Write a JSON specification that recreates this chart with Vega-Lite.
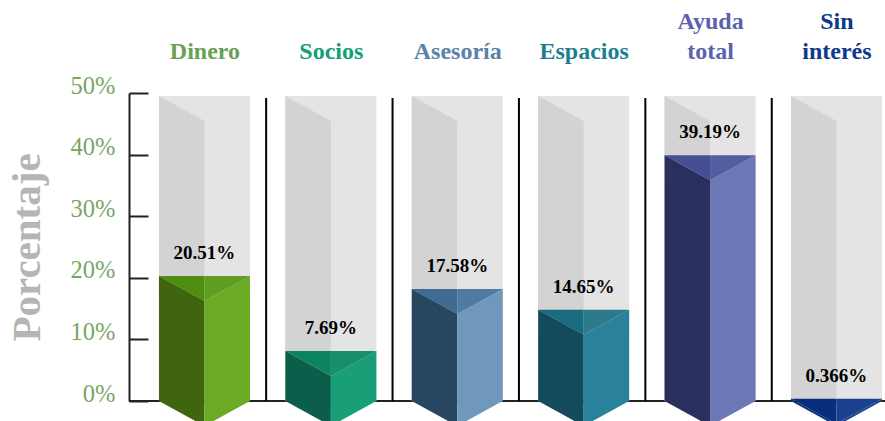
{"$schema":"https://vega.github.io/schema/vega-lite/v6.json","autosize":{"type":"none"},"width":756,"height":308,"padding":{"left":129,"top":93,"right":0,"bottom":20},"background":"white","config":{"view":{"stroke":null},"font":"Liberation Serif"},"data":{"values":[{"categoria":"Dinero","orden":0,"valor":20.51,"altura":20.3},{"categoria":"Socios","orden":1,"valor":7.69,"altura":8.1},{"categoria":"Asesoría","orden":2,"valor":17.58,"altura":18.2},{"categoria":"Espacios","orden":3,"valor":14.65,"altura":14.8},{"categoria":"Ayuda total","orden":4,"valor":39.19,"altura":39.9},{"categoria":"Sin interés","orden":5,"valor":0.366,"altura":0.37}]},"layer":[{"mark":{"type":"rule","color":"#222222","strokeWidth":2},"encoding":{"y":{"datum":0,"type":"quantitative","scale":{"domain":[0,50],"nice":false}}}},{"transform":[{"calculate":"['fondo','fondoIzq','frenteIzq','frenteDer','topeIzq','topeDer']","as":"cara"},{"flatten":["cara"]},{"calculate":"[0,1]","as":"t"},{"flatten":["t"]},{"calculate":"datum.cara=='fondo'?datum.orden-0.36+0.72*datum.t:(datum.cara=='frenteDer'||datum.cara=='topeDer')?datum.orden+0.36*datum.t:datum.orden-0.36+0.36*datum.t","as":"px"},{"calculate":"datum.cara=='fondo'?49.5:datum.cara=='fondoIzq'?49.5-4.06*datum.t:datum.cara=='frenteIzq'?datum.altura-4.06*datum.t:datum.cara=='frenteDer'?datum.altura-4.06*(1-datum.t):datum.altura","as":"arriba"},{"calculate":"datum.cara=='fondo'||datum.cara=='fondoIzq'?0:datum.cara=='frenteIzq'?-4.06*datum.t:datum.cara=='frenteDer'?-4.06*(1-datum.t):datum.cara=='topeIzq'?datum.altura-4.06*datum.t:datum.altura-4.06*(1-datum.t)","as":"abajo"},{"calculate":"datum.cara=='fondo'||datum.cara=='fondoIzq'?datum.cara:datum.categoria+'|'+datum.cara","as":"clave"},{"calculate":"datum.categoria+'|'+datum.cara","as":"grupo"}],"mark":{"type":"area","interpolate":"linear"},"encoding":{"x":{"field":"px","type":"quantitative","scale":{"domain":[-0.597,5.384],"nice":false,"zero":false},"axis":{"orient":"top","title":null,"domain":false,"ticks":false,"grid":false,"values":[0,1,2,3,4,5],"labelExpr":"[['Dinero'],['Socios'],['Asesoría'],['Espacios'],['Ayuda','total'],['Sin','interés']][datum.value]","labelFont":"Liberation Serif","labelFontWeight":"bold","labelFontSize":24,"labelLineHeight":30,"labelPadding":{"condition":{"test":"datum.value>=4","value":60},"value":30},"labelAngle":0,"labelBaseline":"bottom","labelOverlap":false,"labelColor":{"condition":[{"test":"datum.value==0","value":"#6a9f55"},{"test":"datum.value==1","value":"#12a078"},{"test":"datum.value==2","value":"#5b82a8"},{"test":"datum.value==3","value":"#1f7f8f"},{"test":"datum.value==4","value":"#5a62ae"}],"value":"#0b3a8c"}}},"y":{"field":"arriba","type":"quantitative","stack":null,"scale":{"domain":[0,50],"nice":false},"axis":{"orient":"left","title":"Porcentaje","titleFont":"Liberation Serif","titleFontSize":41,"titleFontWeight":"bold","titleColor":"#b5b5b5","titlePadding":22,"grid":false,"values":[0,5,10,15,20,25,30,35,40,45,50],"labelExpr":"datum.value%10==0?datum.value+'%':''","labelFont":"Liberation Serif","labelFontSize":24.5,"labelColor":"#78a664","labelOffset":-7,"labelPadding":33,"labelOverlap":false,"tickSize":-19,"tickWidth":2,"tickColor":"#222222","domainColor":"#222222","domainWidth":2}},"y2":{"field":"abajo"},"detail":{"field":"grupo"},"color":{"field":"clave","type":"nominal","legend":null,"scale":{"domain":["fondo","fondoIzq","Dinero|frenteIzq","Dinero|frenteDer","Dinero|topeIzq","Dinero|topeDer","Socios|frenteIzq","Socios|frenteDer","Socios|topeIzq","Socios|topeDer","Asesoría|frenteIzq","Asesoría|frenteDer","Asesoría|topeIzq","Asesoría|topeDer","Espacios|frenteIzq","Espacios|frenteDer","Espacios|topeIzq","Espacios|topeDer","Ayuda total|frenteIzq","Ayuda total|frenteDer","Ayuda total|topeIzq","Ayuda total|topeDer","Sin interés|frenteIzq","Sin interés|frenteDer","Sin interés|topeIzq","Sin interés|topeDer"],"range":["#e4e4e4","#d3d3d3","#3f660f","#6aaa24","#508c10","#5f9c20","#0b5f4a","#1a9e78","#0b8460","#178f6b","#284660","#7097bc","#3f6a94","#517aa3","#134a5c","#2a819c","#196b80","#2d7a8c","#29305e","#6c77b6","#454f93","#535da0","#082f7d","#1a418f","#082f7d","#1a418f"]}}}},{"transform":[{"filter":"datum.orden<5"},{"calculate":"datum.orden+0.488","as":"separador"}],"mark":{"type":"rule","color":"#000000","strokeWidth":2},"encoding":{"x":{"field":"separador","type":"quantitative","scale":{"domain":[-0.597,5.384],"nice":false,"zero":false}},"y":{"datum":0,"type":"quantitative","scale":{"domain":[0,50],"nice":false}},"y2":{"datum":49.2}}},{"transform":[{"calculate":"datum.valor+'%'","as":"etiqueta"}],"mark":{"type":"text","font":"Liberation Serif","fontWeight":"bold","fontSize":19,"color":"#000000","dy":-23,"baseline":"middle","align":"center"},"encoding":{"x":{"field":"orden","type":"quantitative","scale":{"domain":[-0.597,5.384],"nice":false,"zero":false}},"y":{"field":"altura","type":"quantitative","scale":{"domain":[0,50],"nice":false}},"text":{"field":"etiqueta","type":"nominal"}}}]}
